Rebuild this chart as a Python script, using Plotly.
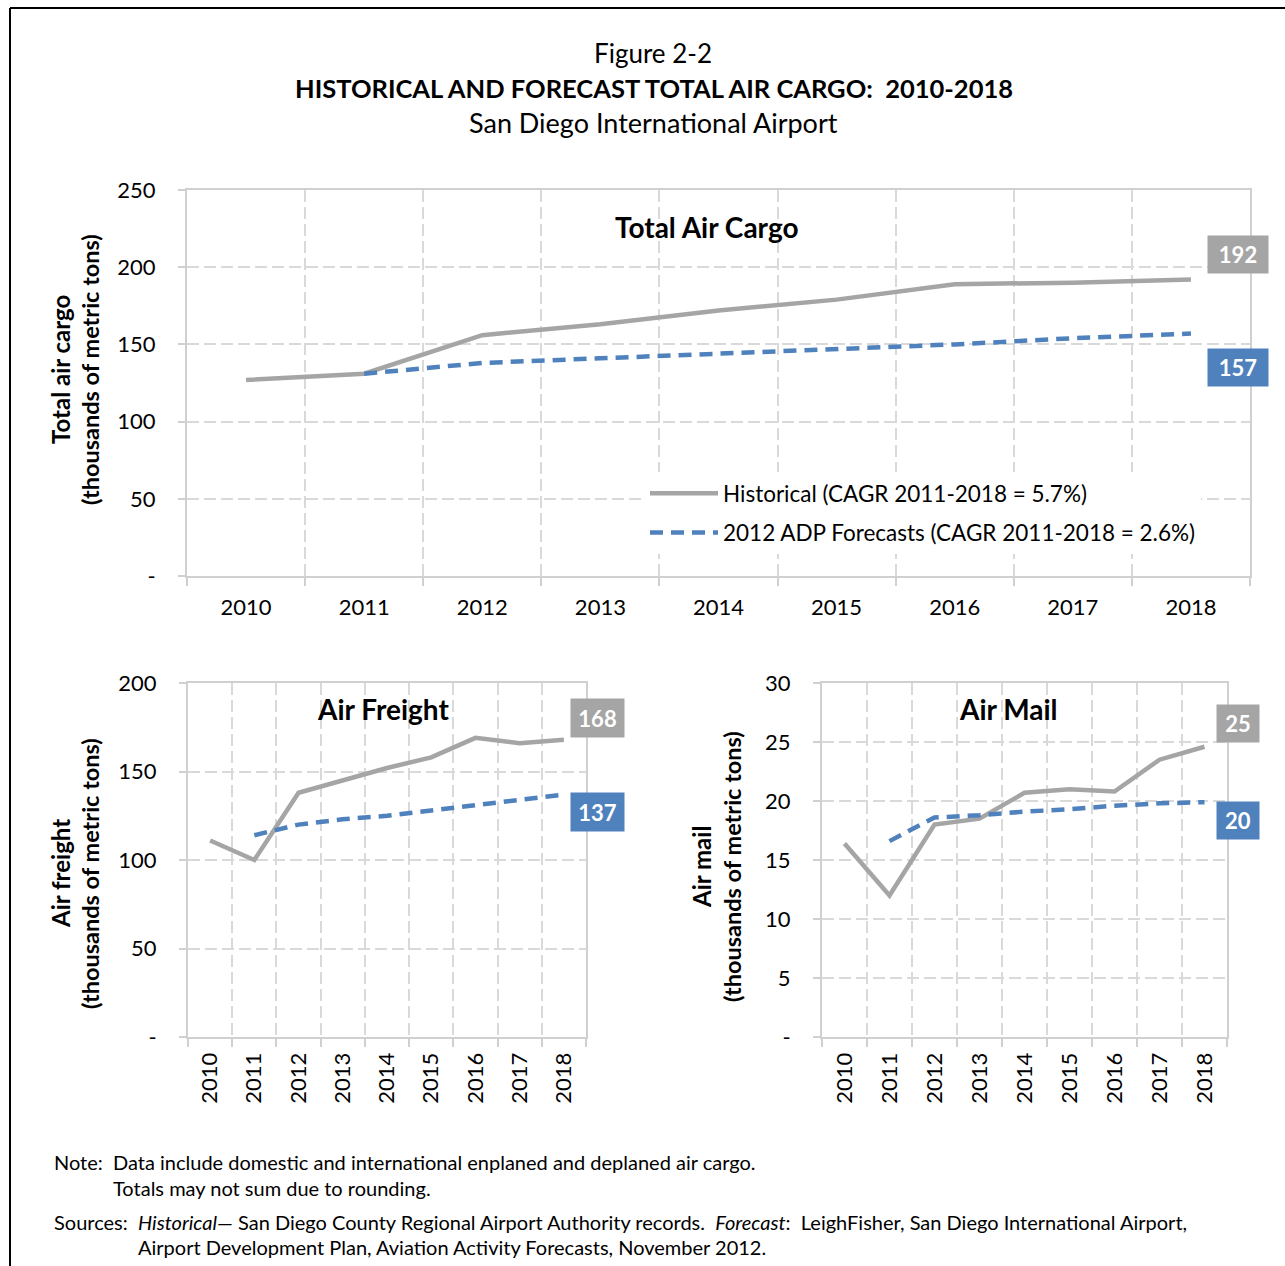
import plotly.graph_objects as go

# ---------------- data ----------------
years = ["2010", "2011", "2012", "2013", "2014", "2015", "2016", "2017", "2018"]
forecast_years = ["2011", "2012", "2013", "2014", "2015", "2016", "2017", "2018"]

total_hist = [127, 131, 156, 163, 172, 179, 189, 190, 192]
total_fcst = [131, 138, 141, 144, 147, 150, 154, 157]

freight_hist = [111, 100, 138, 145, 152, 158, 169, 166, 168]
freight_fcst = [114, 120, 123, 125, 128, 131, 134, 137]

mail_hist = [16.4, 12.0, 18.0, 18.5, 20.7, 21.0, 20.8, 23.5, 24.6]
mail_fcst = [16.6, 18.6, 18.8, 19.1, 19.3, 19.6, 19.8, 19.9]

hist_name = "Historical (CAGR 2011-2018 = 5.7%)"
fcst_name = "2012 ADP Forecasts (CAGR 2011-2018 = 2.6%)"

total_ticks = [0, 50, 100, 150, 200, 250]
freight_ticks = [0, 50, 100, 150, 200]
mail_ticks = [0, 5, 10, 15, 20, 25, 30]

# ---------------- style ----------------
W, H = 1285, 1266
FONT = "Lato, 'Open Sans', sans-serif"
GRAY = "#a5a5a5"
BLUE = "#4f81bd"
GRID = "#d9d9d9"
AXIS = "#d0d0d0"


def px(x):
    return x / W


def py(y):
    return 1 - y / H


def tick_text(vals):
    return ["-" if v == 0 else str(v) for v in vals]


fig = go.Figure()

panels = [
    ("x", "y", total_hist, total_fcst, True),
    ("x2", "y2", freight_hist, freight_fcst, False),
    ("x3", "y3", mail_hist, mail_fcst, False),
]
for xa, ya, hist, fcst, show in panels:
    fig.add_trace(go.Scatter(
        x=years, y=hist, xaxis=xa, yaxis=ya, mode="lines", name=hist_name,
        line=dict(color=GRAY, width=4.5), showlegend=show, legendgroup="h",
    ))
    fig.add_trace(go.Scatter(
        x=forecast_years, y=fcst, xaxis=xa, yaxis=ya, mode="lines", name=fcst_name,
        line=dict(color=BLUE, width=4.5, dash="13px,8px"), showlegend=show, legendgroup="f",
    ))


def xaxis(domain, anchor, angle, fs, standoff):
    return dict(
        domain=domain, anchor=anchor, type="category", categoryorder="array",
        categoryarray=years, range=[-0.5, len(years) - 0.5], tickson="boundaries",
        showgrid=True, gridcolor=GRID, gridwidth=2, griddash="12px,5px",
        showline=True, linecolor=AXIS, linewidth=2, mirror=True,
        ticks="outside", ticklen=8, tickwidth=2, tickcolor=AXIS,
        tickangle=angle, tickfont=dict(family=FONT, size=fs, color="#000"),
        ticklabelstandoff=standoff, fixedrange=True, automargin=False,
    )


def yaxis(domain, anchor, vals, fs):
    return dict(
        domain=domain, anchor=anchor, range=[0, vals[-1]], tickvals=vals,
        ticktext=tick_text(vals), showgrid=True, gridcolor=GRID, gridwidth=2,
        griddash="12px,5px", zeroline=False, showline=True, linecolor=AXIS,
        linewidth=2, mirror=True, ticks="outside", ticklen=7, tickwidth=2,
        tickcolor=AXIS, tickfont=dict(family=FONT, size=fs, color="#000"),
        ticklabelstandoff=18, fixedrange=True, automargin=False,
    )


layout = dict(
    width=W, height=H, margin=dict(l=0, r=0, t=0, b=0, pad=0, autoexpand=False),
    paper_bgcolor="white", plot_bgcolor="white",
    font=dict(family=FONT, color="#000"),
    xaxis=xaxis([px(187), px(1250)], "y", 0, 22, 11),
    yaxis=yaxis([py(576), py(190)], "x", total_ticks, 22),
    xaxis2=xaxis([px(188), px(586)], "y2", -90, 22, 5),
    yaxis2=yaxis([py(1037), py(683)], "x2", freight_ticks, 22),
    xaxis3=xaxis([px(822), px(1227)], "y3", -90, 22, 5),
    yaxis3=yaxis([py(1037), py(683)], "x3", mail_ticks, 22),
    showlegend=True,
    legend=dict(
        x=px(645), y=py(472), xanchor="left", yanchor="top",
        bgcolor="white", borderwidth=0, itemwidth=68,
        traceorder="grouped", tracegroupgap=7,
        font=dict(family=FONT, size=22.5, color="#000"),
    ),
)
fig.update_layout(**layout)

annotations = []


def label_box(xref, yref, value, color, xshift, yshift, w, h):
    annotations.append(dict(
        xref=xref, yref=yref, x=len(years) - 1, y=value, xshift=xshift, yshift=yshift,
        text="<b>%d</b>" % round(value), showarrow=False, bgcolor=color,
        width=w, height=h, borderpad=0,
        font=dict(family=FONT, size=22, color="white"),
    ))


label_box("x", "y", total_hist[-1], GRAY, 47, 25, 60, 37)
label_box("x", "y", total_fcst[-1], BLUE, 47, -34, 60, 37)
label_box("x2", "y2", freight_hist[-1], GRAY, 34, 22, 53, 38)
label_box("x2", "y2", freight_fcst[-1], BLUE, 34, -17, 53, 38)
label_box("x3", "y3", mail_hist[-1], GRAY, 33, 23, 42, 37)
label_box("x3", "y3", mail_fcst[-1], BLUE, 33, -18, 42, 37)


def text(x, y, s, size, bold=False, anchor="center", angle=0):
    annotations.append(dict(
        xref="paper", yref="paper", x=px(x), y=py(y), text=("<b>%s</b>" % s) if bold else s,
        showarrow=False, xanchor=anchor, yanchor="middle", textangle=angle,
        font=dict(family=FONT, size=size, color="#000"),
    ))


# figure titles
text(653, 53, "Figure 2-2", 26)
text(654, 88, "HISTORICAL AND FORECAST TOTAL AIR CARGO:\u00a0 2010-2018", 25.5, bold=True)
text(653, 123, "San Diego International Airport", 27)

# chart titles
text(707, 227, "Total Air Cargo", 28, bold=True)
text(383, 709, "Air Freight", 28, bold=True)
text(1008, 709, "Air Mail", 28, bold=True)

# axis titles
text(60, 370, "Total air cargo", 24, bold=True, angle=-90)
text(90, 370, "(thousands of metric tons)", 23.5, bold=True, angle=-90)
text(60, 874, "Air freight", 24, bold=True, angle=-90)
text(90, 874, "(thousands of metric tons)", 23.5, bold=True, angle=-90)
text(701, 867, "Air mail", 24, bold=True, angle=-90)
text(732, 867, "(thousands of metric tons)", 23.5, bold=True, angle=-90)

# notes
NB = "\u00a0"
text(52, 1162, "Note:" + NB * 2 + "Data include domestic and international enplaned and deplaned air cargo.", 20, anchor="left")
text(111, 1188, "Totals may not sum due to rounding.", 20, anchor="left")
text(52, 1222, "Sources:" + NB * 2 + "<i>Historical</i>\u2014 San Diego County Regional Airport Authority records." + NB * 2
     + "<i>Forecast</i>:" + NB * 2 + "LeighFisher, San Diego International Airport,", 20, anchor="left")
text(136, 1247, "Airport Development Plan, Aviation Activity Forecasts, November 2012.", 20, anchor="left")

fig.update_layout(annotations=annotations)

# page border
fig.add_shape(type="line", xref="paper", yref="paper", x0=px(10), x1=1, y0=py(8), y1=py(8),
              line=dict(color="black", width=2))
fig.add_shape(type="line", xref="paper", yref="paper", x0=px(10), x1=px(10), y0=py(8), y1=0,
              line=dict(color="black", width=2))

fig.write_html("out.html", post_script="document.body.style.margin='0';",
               config={"displayModeBar": False})
